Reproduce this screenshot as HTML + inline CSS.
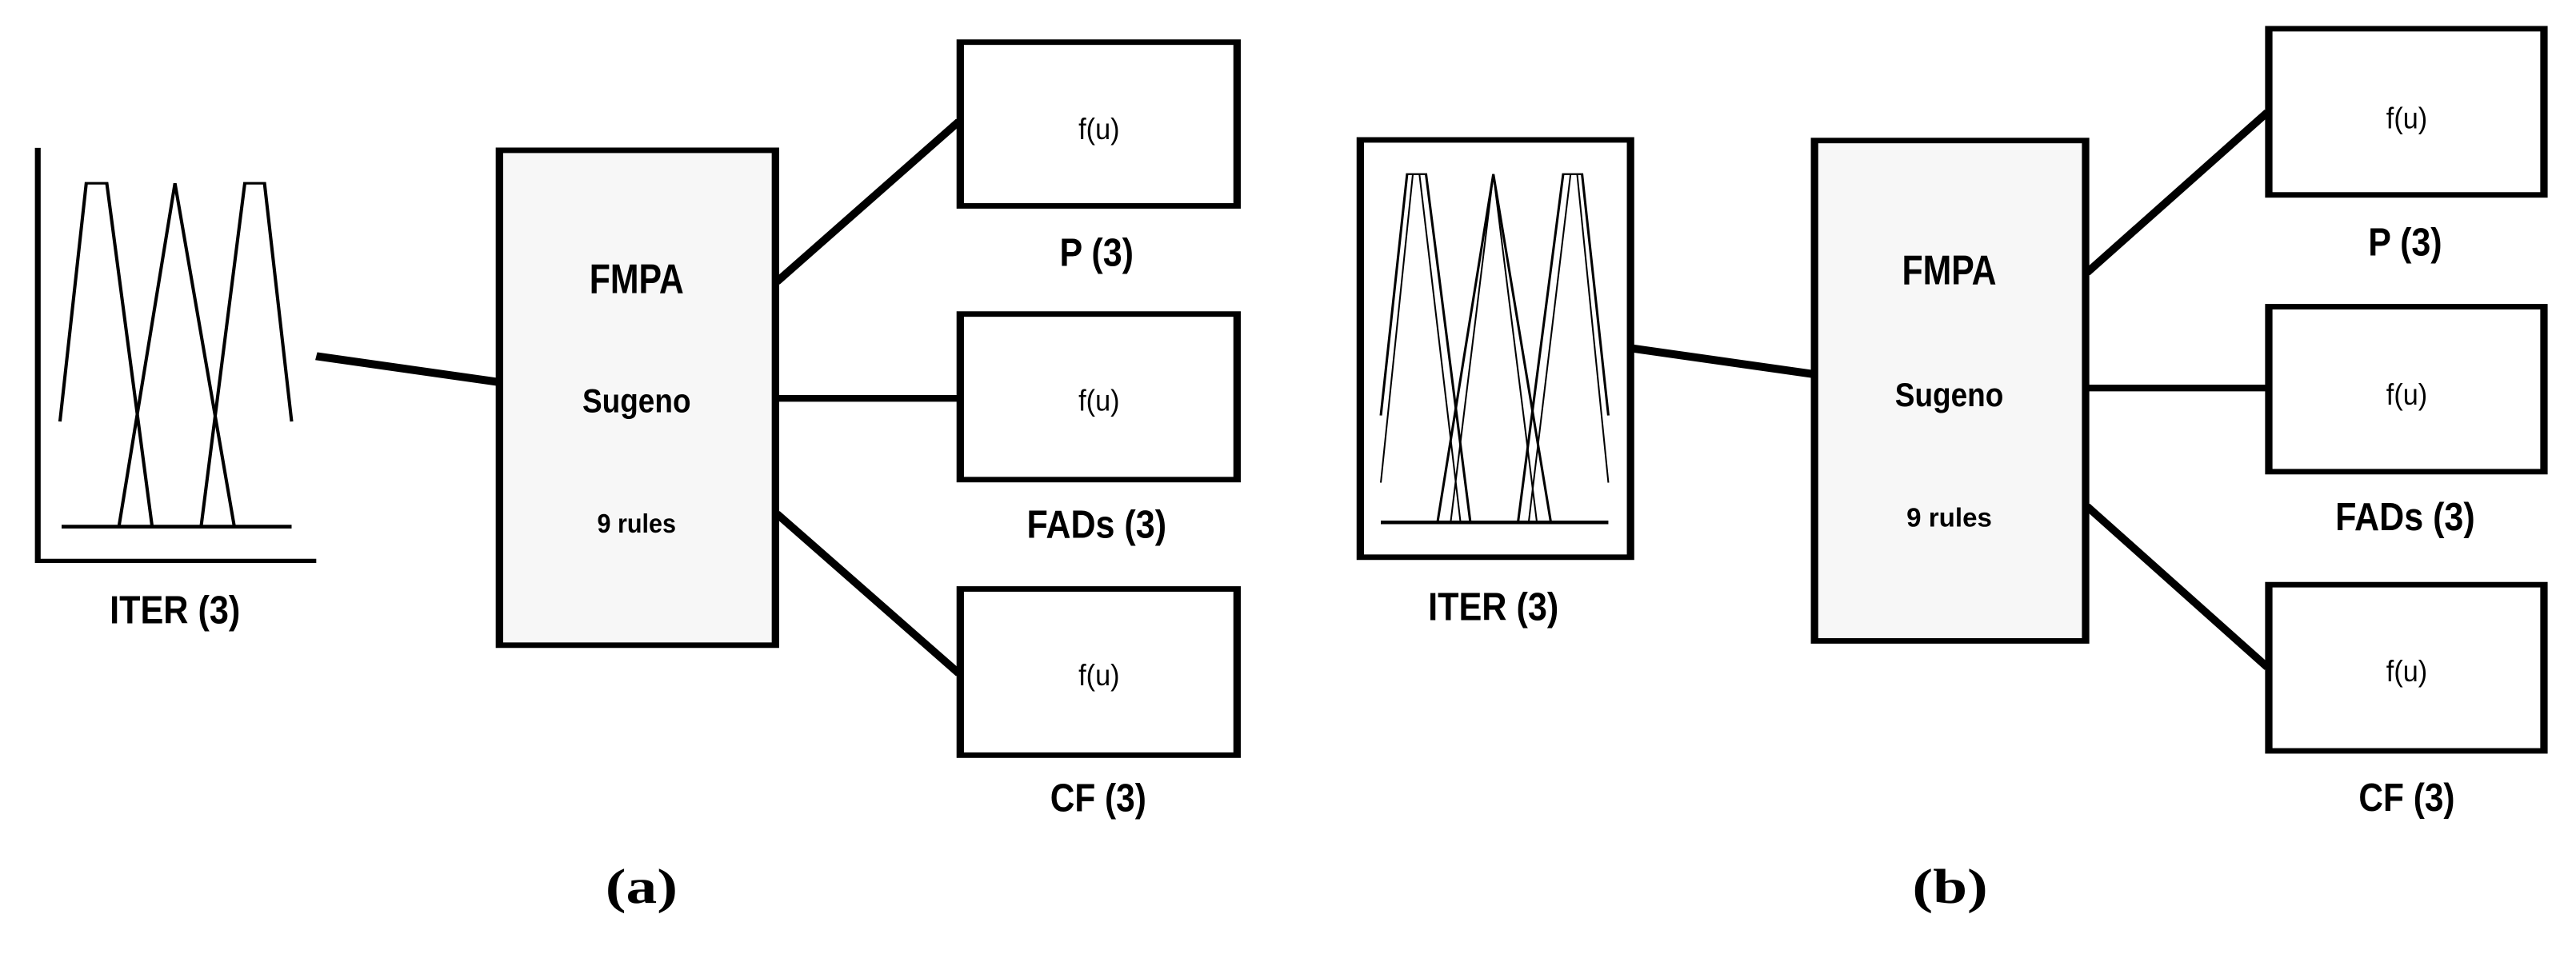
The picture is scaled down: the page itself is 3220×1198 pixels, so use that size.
<!DOCTYPE html>
<html><head><meta charset="utf-8"><style>html,body{margin:0;padding:0;background:#fff;overflow:hidden}svg{display:block}</style></head>
<body>
<svg width="3220" height="1198" viewBox="0 0 3136 1568" preserveAspectRatio="none" xmlns="http://www.w3.org/2000/svg" font-family="'Liberation Sans', sans-serif">
<rect width="3136" height="1568" fill="#fff"/>
<!-- Panel a -->
<g stroke="#000" fill="none" stroke-linecap="butt">
  <path d="M46 242 V918 H385" stroke-width="7"/>
  <path d="M75 862 H355" stroke-width="6"/>
  <path d="M73 690 L105 300 H130 L185 860" stroke-width="4"/>
  <path d="M145 860 L213 300 L285 860" stroke-width="4"/>
  <path d="M245 860 L298 300 H322 L355 690" stroke-width="4"/>
  <path d="M385 583 L605 625" stroke-width="13"/>
  <rect x="608" y="246" width="336" height="810" fill="#f7f7f7" stroke-width="9"/>
  <path d="M945 462 L1168 198 M945 652 H1168 M945 840 L1168 1103" stroke-width="11"/>
  <rect x="1169" y="69" width="337" height="268" fill="#fff" stroke-width="9"/>
  <rect x="1169" y="514" width="337" height="271" fill="#fff" stroke-width="9"/>
  <rect x="1169" y="964" width="337" height="272" fill="#fff" stroke-width="9"/>
</g>
<g font-weight="bold" text-anchor="middle" fill="#000">
  <text x="775" y="480" font-size="68" textLength="115" lengthAdjust="spacingAndGlyphs">FMPA</text>
  <text x="775" y="675" font-size="54" textLength="132" lengthAdjust="spacingAndGlyphs">Sugeno</text>
  <text x="775" y="872" font-size="44" textLength="96" lengthAdjust="spacingAndGlyphs">9 rules</text>
  <text x="213" y="1020" font-size="64" textLength="159" lengthAdjust="spacingAndGlyphs">ITER (3)</text>
  <text x="1335" y="435" font-size="64" textLength="90" lengthAdjust="spacingAndGlyphs">P (3)</text>
  <text x="1335" y="880" font-size="64" textLength="170" lengthAdjust="spacingAndGlyphs">FADs (3)</text>
  <text x="1337" y="1328" font-size="64" textLength="117" lengthAdjust="spacingAndGlyphs">CF (3)</text>
</g>
<g font-size="48" text-anchor="middle" fill="#000">
  <text x="1338" y="228" textLength="50" lengthAdjust="spacingAndGlyphs">f(u)</text>
  <text x="1338" y="672" textLength="50" lengthAdjust="spacingAndGlyphs">f(u)</text>
  <text x="1338" y="1122" textLength="50" lengthAdjust="spacingAndGlyphs">f(u)</text>
</g>
<text x="781" y="1478" font-family="'Liberation Serif', serif" font-size="80" text-anchor="middle" font-weight="bold" textLength="88" lengthAdjust="spacingAndGlyphs">(a)</text>

<!-- Panel b -->
<g transform="translate(1568,0)">
<g stroke="#000" fill="none">
  <rect x="88" y="229" width="329" height="683" stroke-width="9"/>
  <path d="M113 855 H390" stroke-width="6"/>
  <path d="M113 680 L145 285 H168 L222 855" stroke-width="3"/>
  <path d="M113 790 L152 285 H160 L210 855" stroke-width="2"/>
  <path d="M182 855 L250 285 L320 855" stroke-width="3"/>
  <path d="M198 855 L250 285 L303 855" stroke-width="2"/>
  <path d="M280 855 L335 285 H358 L390 680" stroke-width="3"/>
  <path d="M293 855 L344 285 H352 L390 790" stroke-width="2"/>
  <path d="M418 570 L638 612" stroke-width="13"/>
  <rect x="641" y="230" width="330" height="819" fill="#f7f7f7" stroke-width="9"/>
  <path d="M972 447 L1193 183 M972 635 H1193 M972 828 L1193 1093" stroke-width="11"/>
  <rect x="1194" y="47" width="335" height="272" fill="#fff" stroke-width="9"/>
  <rect x="1194" y="502" width="335" height="270" fill="#fff" stroke-width="9"/>
  <rect x="1194" y="957" width="335" height="272" fill="#fff" stroke-width="9"/>
</g>
<g font-weight="bold" text-anchor="middle" fill="#000">
  <text x="805" y="465" font-size="68" textLength="115" lengthAdjust="spacingAndGlyphs">FMPA</text>
  <text x="805" y="665" font-size="54" textLength="132" lengthAdjust="spacingAndGlyphs">Sugeno</text>
  <text x="805" y="862" font-size="44" textLength="104" lengthAdjust="spacingAndGlyphs">9 rules</text>
  <text x="250" y="1015" font-size="64" textLength="159" lengthAdjust="spacingAndGlyphs">ITER (3)</text>
  <text x="1360" y="418" font-size="64" textLength="90" lengthAdjust="spacingAndGlyphs">P (3)</text>
  <text x="1360" y="868" font-size="64" textLength="170" lengthAdjust="spacingAndGlyphs">FADs (3)</text>
  <text x="1362" y="1327" font-size="64" textLength="117" lengthAdjust="spacingAndGlyphs">CF (3)</text>
</g>
<g font-size="48" text-anchor="middle" fill="#000">
  <text x="1362" y="210" textLength="50" lengthAdjust="spacingAndGlyphs">f(u)</text>
  <text x="1362" y="662" textLength="50" lengthAdjust="spacingAndGlyphs">f(u)</text>
  <text x="1362" y="1115" textLength="50" lengthAdjust="spacingAndGlyphs">f(u)</text>
</g>
<text x="806" y="1478" font-family="'Liberation Serif', serif" font-size="80" text-anchor="middle" font-weight="bold" textLength="92" lengthAdjust="spacingAndGlyphs">(b)</text>
</g>
</svg>
</body></html>
